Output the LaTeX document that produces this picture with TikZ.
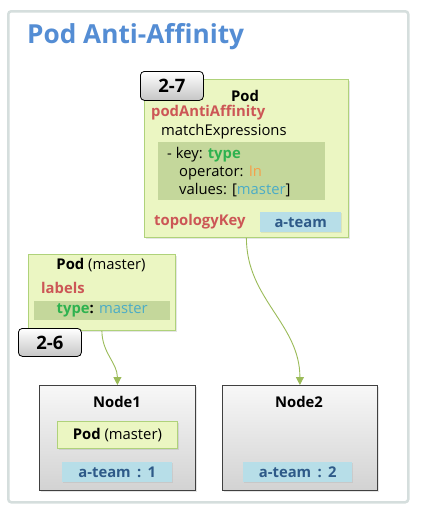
\documentclass[tikz,border=0pt]{standalone}
\usepackage{fontspec}
\setmainfont{Open Sans}
\usepackage{xcolor}
\usetikzlibrary{positioning, calc, arrows.meta, shadows}

\definecolor{titleblue}{HTML}{548DD4}
\definecolor{podfill}{HTML}{EBF6C2}
\definecolor{podline}{HTML}{AFD27A}
\definecolor{exprfill}{HTML}{C4D79B}
\definecolor{keyred}{HTML}{CC5656}
\definecolor{typegreen}{HTML}{2EB24F}
\definecolor{oporange}{HTML}{F5A04A}
\definecolor{valblue}{HTML}{4BACC6}
\definecolor{teamfill}{HTML}{B7DEE8}
\definecolor{teamtext}{HTML}{2E5A88}
\definecolor{linkgreen}{HTML}{9BBB59}
\definecolor{frameline}{HTML}{D5DEDD}

\begin{document}
\begin{tikzpicture}[
    x=1pt, y=-1pt,
    every node/.style={
        inner sep=0pt,
        font=\fontsize{14.8}{16}\selectfont
    },
    frame/.style={draw=frameline, line width=2.5pt, rounded corners=3pt, fill=white},
    podbox/.style={draw=podline, fill=podfill, line width=0.8pt,
        drop shadow={opacity=0.2, shadow xshift=1.5pt, shadow yshift=-1.5pt}},
    exprbox/.style={fill=exprfill},
    tagbox/.style={draw=black, line width=0.8pt, rounded corners=4pt,
        top color=white, bottom color=gray!45,
        font=\fontsize{18.5}{20}\selectfont\bfseries},
    hostbox/.style={draw=black!75, line width=0.8pt, top color=gray!6, bottom color=gray!35,
        drop shadow={opacity=0.2, shadow xshift=1.5pt, shadow yshift=-1.5pt}},
    teambox/.style={fill=teamfill, text=teamtext, font=\fontsize{14.8}{16}\selectfont\bfseries,
        drop shadow={opacity=0.15, shadow xshift=1pt, shadow yshift=-1pt}},
    keytext/.style={text=keyred, font=\fontsize{14.8}{16}\selectfont\bfseries},
    boldtext/.style={font=\fontsize{14.8}{16}\selectfont\bfseries},
    link/.style={draw=linkgreen, line width=0.9pt, -{Triangle[width=8pt, length=8pt]}}
]
\useasboundingbox (0,0) rectangle (426,517);
\node[frame, anchor=north west, minimum width=400pt, minimum height=491pt] (frame) at (7,10) {};
\node[anchor=west, text=titleblue, font=\fontsize{26.2}{30}\selectfont\bfseries] (title) at (27,37) {Pod Anti-Affinity};

% pod with anti-affinity
\node[podbox, anchor=north west, minimum width=204pt, minimum height=158pt] (pod27) at (144,79) {};
\node[boldtext] (pod27name) at (245,96) {Pod};
\node[keytext, anchor=west] (anti) at (151,113) {podAntiAffinity};
\node[anchor=west] (match) at (161,132) {matchExpressions};
\node[exprbox, anchor=north west, minimum width=167pt, minimum height=58pt] (expr) at (158,142) {};
\node[anchor=west] (exprkey) at (167,155) {- key: \textcolor{typegreen}{\bfseries type}};
\node[anchor=west] (exprop) at (179,173) {operator: \textcolor{oporange}{In}};
\node[anchor=west] (exprval) at (179,190) {values: [\textcolor{valblue}{master}]};
\node[keytext, anchor=west] (topo) at (154,222) {topologyKey};
\node[teambox, anchor=north west, minimum width=81pt, minimum height=20pt] (topoval) at (260,212) {a-team};
\node[tagbox, anchor=north west, minimum width=63pt, minimum height=29pt] (tag27) at (140,71) {2-7};

% pod with label
\node[podbox, anchor=north west, minimum width=147pt, minimum height=76pt] (pod26) at (28,254) {};
\node (pod26name) at (101,265) {\textbf{Pod} (master)};
\node[keytext, anchor=west] (labels) at (41,288) {labels};
\node[exprbox, anchor=north west, minimum width=136pt, minimum height=19pt] (labelval) at (34,301)
    {\textcolor{typegreen}{\bfseries type}\textbf{:} \textcolor{valblue}{master}};
\node[tagbox, anchor=north west, minimum width=63pt, minimum height=28pt] (tag26) at (18,328) {2-6};

% nodes
\node[hostbox, anchor=north west, minimum width=156pt, minimum height=105pt] (node1) at (39,385) {};
\node[boldtext] (node1name) at (117,402) {Node1};
\node[podbox, anchor=north west, minimum width=120pt, minimum height=27pt] (node1pod) at (57,421) {\textbf{Pod} (master)};
\node[teambox, anchor=north west, minimum width=110pt, minimum height=20pt] (team1) at (62,462) {a-team\ \,:\ \,1};

\node[hostbox, anchor=north west, minimum width=155pt, minimum height=105pt] (node2) at (222,385) {};
\node[boldtext] (node2name) at (299,402) {Node2};
\node[teambox, anchor=north west, minimum width=109pt, minimum height=20pt] (team2) at (243,462) {a-team\ \,:\ \,2};

\draw[link] (pod27) to[out=-90, in=90] (node2);
\draw[link] (pod26) to[out=-90, in=90] (node1);
\end{tikzpicture}
\end{document}
